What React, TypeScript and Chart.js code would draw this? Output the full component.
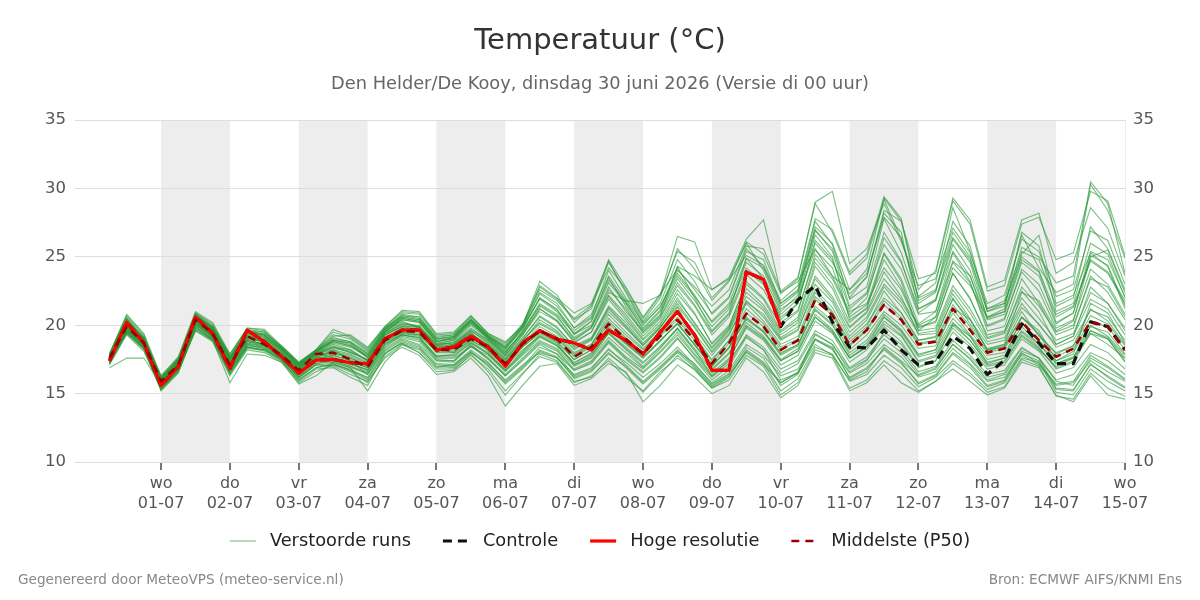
import { useEffect, useRef } from 'react';
import { Chart, registerables } from 'chart.js';

Chart.register(...registerables);

// Forecast time in hours relative to wo 01-07 00:00 (6-hourly steps)
const HOURS = [
  -18, -12, -6,
  0, 6, 12, 18, 24, 30, 36, 42, 48, 54, 60, 66, 72, 78, 84, 90, 96, 102, 108, 114,
  120, 126, 132, 138, 144, 150, 156, 162, 168, 174, 180, 186, 192, 198, 204, 210, 216,
  222, 228, 234, 240, 246, 252, 258, 264, 270, 276, 282, 288, 294, 300, 306, 312, 318,
  324, 330, 336,
];

const DAY_NAMES = ['wo', 'do', 'vr', 'za', 'zo', 'ma', 'di', 'wo', 'do', 'vr', 'za', 'zo', 'ma', 'di', 'wo'];
const DAY_DATES = ['01-07', '02-07', '03-07', '04-07', '05-07', '06-07', '07-07', '08-07', '09-07', '10-07', '11-07', '12-07', '13-07', '14-07', '15-07'];

// Shaded days (start hour of each grey band, one day wide)
const SHADED_DAY_STARTS = [0, 48, 96, 144, 192, 240, 288];

const Y_TICKS = [10, 15, 20, 25, 30, 35];

// Hoge resolutie (runs until 10-07 00:00)
const HIGH_RES = [
  17.4, 20.2, 18.7,
  15.6, 17.0, 20.6, 19.4, 16.85, 19.65, 18.8, 17.7, 16.5, 17.45, 17.5, 17.26,
  17.2, 19.0, 19.65, 19.65, 18.2, 18.4, 19.2, 18.4, 17.0, 18.7, 19.6, 19.0,
  18.7, 18.2, 19.65, 18.9, 17.9, 19.5, 21.0, 19.3, 16.7, 16.7, 23.9, 23.35,
  19.9,
];

// Controle
const CONTROL = [
  17.4, 20.2, 18.7,
  15.6, 17.0, 20.6, 19.4, 16.85, 19.65, 18.8, 17.7, 16.5, 17.45, 17.5, 17.26,
  17.2, 19.0, 19.65, 19.65, 18.2, 18.4, 19.2, 18.4, 17.0, 18.7, 19.6, 19.0,
  18.7, 18.2, 19.65, 18.9, 17.9, 19.5, 21.0, 19.3, 16.7, 16.7, 23.9, 23.35,
  19.9, 21.85, 22.9, 20.25, 18.4, 18.35, 19.65, 18.2, 17.1, 17.35, 19.2, 18.3,
  16.4, 17.45, 20.1, 18.7, 17.2, 17.2, 20.25, 19.9, 18.2,
];

// Middelste (P50)
const MEDIAN = [
  17.6, 19.9, 18.7,
  15.9, 17.1, 20.4, 19.4, 17.1, 19.2, 18.6, 17.8, 16.7, 17.9, 18.0, 17.5,
  16.95, 18.9, 19.6, 19.5, 18.2, 18.2, 19.0, 18.4, 17.2, 18.6, 19.6, 19.0,
  17.7, 18.4, 20.1, 19.0, 17.9, 19.2, 20.4, 18.9, 17.2, 18.7, 20.85, 19.9,
  18.2, 18.9, 21.85, 20.75, 18.55, 19.65, 21.5, 20.4, 18.6, 18.8, 21.2, 19.65,
  18.0, 18.3, 20.25, 18.9, 17.7, 18.3, 20.25, 19.9, 18.2,
];

// Verstoorde runs (perturbed ensemble members)
const RUN_01 = [17.5, 20.0, 18.9, 15.8, 17.0, 20.5, 19.5, 17.0, 19.2, 18.9, 17.8, 16.6, 17.6, 18.2, 17.5, 16.9, 19.1, 19.8, 19.7, 18.3, 18.0, 19.2, 18.6, 17.5, 18.9, 20.1, 19.4, 18.0, 18.6, 20.8, 19.5, 18.3, 19.6, 21.3, 19.2, 17.5, 18.9, 21.6, 20.3, 18.6, 19.2, 22.4, 21.0, 18.8, 19.9, 22.5, 20.9, 18.9, 19.1, 22.0, 20.1, 18.3, 18.6, 21.0, 19.2, 18.0, 18.5, 21.2, 20.3, 18.6];
const RUN_02 = [17.2, 19.4, 18.2, 15.3, 16.6, 19.7, 19.0, 16.4, 18.4, 18.1, 17.4, 16.0, 16.9, 17.1, 16.8, 16.1, 18.0, 18.7, 18.3, 17.1, 17.0, 18.0, 17.2, 16.0, 17.1, 18.0, 17.6, 16.4, 16.9, 18.2, 17.3, 16.2, 17.2, 18.4, 17.1, 15.8, 16.7, 18.6, 17.8, 16.3, 16.8, 19.0, 18.2, 16.5, 17.2, 18.6, 17.7, 16.2, 16.6, 18.3, 17.2, 15.9, 16.2, 17.8, 17.1, 15.6, 15.8, 17.4, 16.6, 15.9];
const RUN_03 = [17.8, 20.4, 19.1, 16.2, 17.5, 20.8, 19.8, 17.6, 19.6, 19.3, 18.3, 17.1, 18.1, 18.8, 18.5, 17.8, 19.6, 20.6, 20.4, 18.9, 19.0, 20.3, 19.1, 18.2, 19.8, 21.9, 21.0, 19.4, 20.3, 23.1, 21.6, 19.8, 21.1, 24.3, 22.0, 19.6, 20.9, 24.9, 23.4, 20.4, 21.6, 26.2, 24.8, 21.2, 22.3, 25.9, 24.1, 20.8, 21.0, 25.3, 23.2, 19.6, 19.9, 23.4, 21.6, 19.3, 19.8, 23.6, 22.4, 20.4];
const RUN_04 = [16.9, 17.6, 17.6, 15.6, 16.8, 19.6, 18.9, 15.8, 17.9, 17.8, 17.3, 15.7, 16.3, 17.3, 16.9, 15.2, 17.3, 18.6, 18.0, 16.6, 16.7, 17.9, 16.6, 14.9, 16.4, 17.9, 17.4, 15.9, 16.2, 17.6, 16.5, 15.1, 16.4, 17.8, 16.7, 15.4, 16.2, 18.1, 17.2, 15.2, 16.1, 18.4, 17.9, 15.9, 16.4, 17.8, 16.9, 15.5, 16.2, 17.4, 16.5, 15.3, 15.8, 17.6, 17.3, 15.1, 14.9, 16.8, 15.9, 15.2];
const RUN_05 = [17.7, 20.2, 18.5, 15.6, 17.3, 20.2, 19.1, 17.3, 18.8, 18.5, 17.7, 16.9, 18.0, 17.6, 17.2, 17.2, 19.3, 19.9, 19.9, 18.0, 18.6, 19.5, 18.1, 17.0, 18.2, 19.2, 18.6, 17.2, 18.0, 19.7, 18.6, 17.6, 18.8, 20.2, 18.5, 17.0, 18.4, 20.4, 19.5, 18.0, 18.6, 21.4, 20.3, 18.2, 19.3, 21.0, 20.0, 18.3, 18.5, 20.9, 19.3, 17.8, 18.0, 19.9, 18.6, 17.4, 18.1, 19.9, 19.5, 17.9];
const RUN_06 = [17.9, 20.7, 19.3, 16.1, 17.6, 20.9, 20.0, 17.8, 19.8, 19.6, 18.4, 17.2, 18.2, 19.5, 19.1, 18.2, 19.8, 20.9, 20.8, 19.2, 19.3, 20.6, 19.3, 18.6, 20.1, 22.6, 21.8, 20.4, 21.2, 24.6, 22.5, 20.3, 22.0, 25.6, 24.1, 21.8, 23.2, 26.1, 25.2, 22.3, 23.4, 28.9, 26.8, 23.7, 24.9, 29.2, 26.3, 22.1, 23.1, 28.6, 25.4, 21.2, 21.8, 26.6, 24.2, 22.4, 23.0, 30.3, 28.4, 24.9];
const RUN_07 = [17.4, 19.6, 18.4, 15.5, 16.9, 20.0, 19.2, 16.8, 18.6, 18.3, 17.5, 16.3, 17.3, 17.4, 17.0, 16.6, 18.5, 19.2, 18.9, 17.6, 17.6, 18.4, 17.8, 16.6, 17.8, 18.9, 18.3, 17.0, 17.6, 19.1, 18.0, 16.9, 18.1, 19.5, 17.9, 16.5, 17.6, 19.8, 18.9, 17.1, 17.8, 20.3, 19.4, 17.3, 18.2, 19.9, 18.8, 17.0, 17.4, 19.5, 18.4, 16.8, 17.1, 19.0, 18.1, 16.5, 16.9, 18.6, 18.0, 16.8];
const RUN_08 = [17.6, 19.8, 18.8, 15.9, 17.2, 20.6, 19.7, 17.4, 19.4, 19.1, 18.1, 16.8, 17.9, 18.5, 18.0, 17.5, 19.5, 20.3, 19.8, 18.5, 18.8, 19.8, 18.9, 17.9, 19.5, 21.4, 20.6, 19.1, 19.9, 22.4, 21.8, 21.6, 22.2, 26.5, 26.1, 22.6, 23.5, 26.3, 27.7, 22.4, 23.2, 25.6, 23.6, 21.0, 21.6, 24.2, 22.6, 19.8, 20.3, 23.8, 21.9, 19.3, 19.6, 22.5, 21.0, 18.6, 19.2, 22.8, 21.6, 19.6];
const RUN_09 = [17.3, 19.7, 18.6, 15.4, 16.7, 20.1, 19.1, 16.6, 18.5, 18.4, 17.6, 16.1, 17.1, 17.0, 16.4, 15.9, 17.6, 18.4, 17.8, 16.4, 16.6, 17.6, 16.3, 14.1, 15.6, 17.0, 17.2, 15.6, 16.1, 17.2, 16.6, 14.4, 15.6, 17.1, 16.2, 15.0, 15.6, 17.6, 16.6, 14.7, 15.6, 18.0, 17.6, 15.2, 15.8, 17.1, 15.8, 15.1, 15.9, 16.8, 15.9, 14.9, 15.4, 17.3, 16.9, 14.9, 14.4, 16.3, 14.9, 14.6];
const RUN_10 = [17.7, 20.1, 18.9, 16.0, 17.4, 20.7, 19.6, 17.5, 19.3, 19.0, 18.2, 17.0, 18.0, 18.6, 18.2, 17.4, 19.4, 20.1, 20.0, 18.6, 18.9, 20.0, 19.0, 17.8, 19.3, 21.0, 20.3, 18.8, 19.5, 22.1, 20.6, 19.0, 20.3, 22.6, 20.9, 18.6, 19.9, 23.2, 22.0, 20.0, 21.0, 25.2, 23.6, 22.6, 24.1, 29.3, 27.6, 23.4, 23.8, 29.1, 27.4, 22.5, 22.9, 27.4, 27.9, 24.8, 25.3, 29.8, 29.1, 25.1];
const RUN_11 = [17.6, 20.3, 18.6, 15.7, 17.1, 20.3, 19.3, 17.2, 19.1, 18.8, 17.9, 16.8, 17.8, 18.0, 17.7, 17.1, 19.0, 19.7, 19.6, 18.3, 18.4, 19.3, 18.5, 17.3, 18.7, 19.9, 19.2, 17.9, 18.6, 20.5, 19.3, 18.2, 19.5, 21.0, 19.4, 17.8, 19.3, 21.8, 20.6, 18.9, 19.6, 23.0, 21.7, 19.2, 20.4, 22.8, 21.4, 19.4, 19.6, 22.6, 20.9, 18.8, 19.1, 21.6, 20.0, 18.6, 19.2, 21.9, 21.2, 19.3];
const RUN_12 = [17.4, 19.5, 18.3, 15.2, 16.5, 19.8, 18.9, 16.9, 18.9, 18.6, 17.7, 16.5, 17.5, 17.8, 17.4, 16.4, 18.2, 19.0, 18.6, 17.4, 17.3, 18.5, 17.5, 16.3, 17.4, 18.6, 17.9, 16.7, 17.2, 18.7, 17.5, 16.5, 17.6, 19.0, 17.6, 16.2, 17.2, 19.3, 18.4, 16.8, 17.4, 19.6, 18.9, 16.9, 17.7, 19.3, 18.3, 16.6, 17.0, 18.9, 17.8, 16.4, 16.7, 18.4, 17.6, 16.0, 16.4, 18.0, 17.4, 16.4];
const RUN_13 = [17.8, 20.5, 19.0, 16.3, 17.6, 20.9, 20.1, 17.7, 19.5, 19.4, 18.5, 17.3, 18.2, 19.1, 18.8, 18.0, 19.7, 20.8, 20.6, 19.0, 19.2, 20.5, 19.2, 18.5, 20.0, 23.2, 22.2, 20.2, 21.4, 24.8, 22.8, 20.6, 22.3, 24.1, 22.6, 20.9, 22.1, 25.6, 24.3, 21.6, 22.6, 27.6, 25.9, 21.9, 22.8, 27.8, 25.3, 21.6, 22.4, 27.6, 25.8, 21.2, 21.6, 25.4, 24.8, 21.4, 22.0, 27.2, 25.6, 22.6];
const RUN_14 = [17.5, 19.9, 18.7, 15.9, 17.1, 20.4, 19.4, 17.1, 19.0, 18.6, 17.9, 16.7, 17.7, 17.9, 17.6, 17.0, 18.9, 19.5, 19.4, 18.2, 18.2, 19.0, 18.4, 17.2, 18.6, 19.6, 19.0, 17.7, 18.4, 20.1, 19.0, 17.9, 19.2, 20.4, 18.9, 17.2, 18.7, 20.9, 19.9, 18.2, 18.9, 21.9, 20.7, 18.5, 19.6, 21.5, 20.4, 18.6, 18.8, 21.2, 19.6, 18.0, 18.3, 20.2, 18.9, 17.7, 18.3, 20.3, 19.9, 18.2];
const RUN_15 = [17.3, 19.6, 18.5, 15.6, 16.9, 20.2, 19.3, 16.9, 18.7, 18.5, 17.8, 16.4, 17.4, 17.5, 17.1, 16.8, 18.7, 19.3, 19.1, 17.8, 17.8, 18.7, 17.9, 16.8, 18.1, 19.3, 18.7, 17.1, 17.7, 19.4, 18.2, 17.0, 18.3, 19.8, 18.2, 16.3, 17.4, 19.2, 18.2, 16.0, 16.5, 18.6, 17.8, 16.0, 16.6, 18.4, 17.4, 16.3, 16.8, 18.6, 17.6, 16.2, 16.5, 18.3, 17.6, 15.9, 15.6, 17.6, 16.9, 16.0];
const RUN_16 = [17.9, 20.6, 19.2, 16.1, 17.5, 20.8, 19.9, 17.9, 19.7, 19.5, 18.4, 17.2, 18.1, 19.2, 19.3, 18.4, 19.9, 21.1, 21.0, 19.4, 19.5, 20.7, 19.4, 18.8, 19.9, 22.9, 22.0, 20.9, 21.6, 24.7, 22.4, 20.1, 21.3, 23.8, 22.2, 20.2, 21.4, 24.2, 23.1, 20.8, 21.9, 26.6, 25.0, 20.4, 21.2, 25.2, 23.2, 19.6, 20.6, 24.6, 23.1, 19.9, 20.4, 24.1, 23.0, 20.1, 20.9, 25.1, 24.4, 21.4];
const RUN_17 = [17.6, 20.0, 18.7, 15.8, 17.2, 20.4, 19.4, 17.3, 19.1, 18.9, 18.0, 16.9, 17.9, 18.3, 18.1, 17.4, 19.2, 20.0, 19.8, 18.6, 18.7, 19.6, 18.8, 17.7, 19.1, 20.6, 19.8, 18.5, 19.1, 21.4, 20.2, 18.7, 20.0, 22.0, 20.1, 18.4, 19.8, 22.7, 21.5, 19.5, 20.4, 24.3, 22.7, 19.9, 21.0, 23.9, 22.1, 19.3, 19.4, 22.3, 20.5, 18.2, 18.4, 20.6, 19.4, 17.2, 17.6, 19.4, 18.6, 17.6];
const RUN_18 = [17.1, 19.3, 18.1, 15.4, 16.6, 19.6, 18.8, 16.3, 18.2, 18.0, 17.3, 15.8, 16.6, 17.1, 16.6, 15.8, 17.7, 18.6, 18.2, 16.9, 17.1, 18.1, 17.0, 15.8, 16.9, 18.2, 17.7, 16.1, 16.6, 17.9, 17.0, 15.8, 16.9, 18.1, 17.2, 15.7, 16.5, 18.4, 17.6, 15.6, 16.4, 18.9, 18.3, 16.2, 16.9, 18.2, 17.2, 15.8, 16.4, 18.0, 17.1, 15.6, 16.0, 18.1, 17.6, 15.4, 15.3, 17.1, 16.3, 15.5];
const RUN_19 = [17.7, 20.2, 19.0, 16.0, 17.3, 20.6, 19.7, 17.6, 19.5, 19.2, 18.3, 17.1, 18.1, 18.9, 18.6, 17.6, 19.6, 20.5, 20.3, 18.8, 19.1, 20.2, 19.0, 18.0, 19.6, 21.6, 20.8, 19.4, 20.0, 22.8, 21.0, 19.6, 20.8, 23.4, 21.8, 19.9, 21.2, 24.6, 23.6, 21.0, 22.2, 26.9, 25.6, 22.0, 23.6, 28.4, 27.6, 22.6, 24.0, 29.3, 27.7, 22.8, 23.3, 27.7, 28.2, 23.8, 24.6, 28.6, 27.1, 23.6];
const RUN_20 = [17.5, 19.8, 18.6, 15.7, 17.0, 20.3, 19.3, 17.0, 18.9, 18.6, 17.8, 16.5, 17.6, 17.7, 17.3, 16.9, 18.8, 19.4, 19.3, 18.0, 18.0, 18.9, 18.2, 17.1, 18.4, 19.5, 18.8, 17.5, 18.2, 19.9, 18.7, 17.6, 18.9, 20.1, 18.6, 17.0, 18.3, 20.6, 19.5, 17.8, 18.5, 21.2, 20.1, 17.8, 18.7, 20.6, 19.5, 17.7, 18.0, 20.2, 18.9, 17.3, 17.6, 19.5, 18.4, 16.8, 17.3, 19.4, 19.0, 17.3];
const RUN_21 = [17.8, 20.3, 19.1, 16.2, 17.4, 20.7, 19.8, 17.7, 19.6, 19.5, 18.4, 17.2, 18.2, 19.3, 19.0, 18.1, 19.8, 20.7, 20.6, 19.1, 19.3, 20.4, 19.3, 18.4, 19.9, 22.3, 21.4, 19.8, 20.8, 23.6, 21.8, 20.0, 21.4, 24.0, 22.8, 21.4, 22.6, 25.8, 25.6, 22.5, 23.5, 29.0, 29.8, 24.5, 25.6, 28.9, 26.1, 22.9, 23.4, 27.1, 25.3, 21.6, 22.2, 26.3, 25.4, 22.1, 22.6, 26.9, 26.2, 23.0];
const RUN_22 = [17.6, 20.1, 18.8, 15.8, 17.0, 20.5, 19.5, 17.2, 19.2, 18.8, 17.9, 16.7, 17.8, 18.1, 17.8, 17.2, 19.1, 19.8, 19.6, 18.4, 18.5, 19.4, 18.6, 17.5, 18.9, 20.2, 19.5, 18.2, 18.9, 21.0, 19.8, 18.5, 19.8, 21.6, 19.9, 18.1, 19.6, 22.1, 21.1, 19.1, 19.9, 23.4, 21.9, 19.5, 20.6, 23.0, 21.7, 19.6, 19.8, 22.9, 21.2, 19.0, 19.4, 22.0, 20.5, 18.9, 19.4, 22.4, 21.6, 19.8];
const RUN_23 = [17.2, 19.4, 18.3, 15.3, 16.7, 19.9, 19.0, 16.5, 18.3, 18.2, 17.5, 15.9, 16.8, 16.9, 16.2, 15.6, 17.9, 18.7, 18.0, 16.8, 16.8, 17.8, 16.8, 15.2, 16.5, 17.7, 17.3, 15.8, 16.3, 17.4, 16.2, 15.2, 16.6, 17.6, 16.8, 15.4, 16.0, 17.8, 17.0, 14.9, 15.8, 18.2, 17.8, 15.4, 16.0, 17.4, 16.5, 15.2, 15.9, 17.2, 16.3, 15.1, 15.5, 17.5, 17.0, 14.8, 14.6, 16.5, 15.4, 14.8];
const RUN_24 = [17.7, 20.0, 18.9, 16.0, 17.3, 20.5, 19.6, 17.5, 19.4, 19.1, 18.2, 17.0, 18.0, 18.7, 18.4, 17.7, 19.5, 20.4, 20.2, 18.7, 18.9, 20.1, 19.1, 18.1, 19.4, 21.2, 20.4, 18.9, 19.8, 22.2, 20.8, 19.2, 20.5, 22.9, 21.4, 19.3, 20.6, 23.7, 22.6, 20.2, 21.1, 24.9, 23.4, 20.8, 22.0, 26.4, 24.6, 21.2, 21.9, 25.9, 24.0, 20.6, 21.0, 25.2, 26.6, 21.6, 22.2, 25.3, 24.3, 21.2];
const RUN_25 = [17.4, 19.8, 18.5, 15.5, 16.8, 20.1, 19.2, 16.7, 18.6, 18.5, 17.6, 16.2, 17.2, 17.3, 16.9, 16.5, 18.4, 19.3, 19.1, 17.5, 17.4, 18.6, 17.6, 16.4, 17.6, 18.8, 18.2, 16.8, 17.4, 18.9, 17.7, 16.8, 18.0, 19.3, 17.8, 16.3, 17.5, 19.9, 19.0, 17.4, 18.1, 20.6, 19.6, 17.6, 18.4, 20.1, 19.2, 17.3, 17.7, 19.8, 18.6, 17.0, 17.3, 19.2, 18.2, 17.0, 17.6, 20.0, 19.2, 17.8];
const RUN_26 = [17.9, 20.8, 19.4, 16.3, 17.7, 21.0, 20.2, 17.9, 19.8, 19.7, 18.5, 17.3, 18.2, 19.7, 19.2, 18.3, 19.9, 21.0, 20.9, 19.3, 19.4, 20.7, 19.4, 18.7, 20.0, 22.8, 21.9, 20.5, 21.5, 24.2, 22.7, 20.5, 22.2, 25.4, 24.6, 22.0, 23.3, 25.1, 24.4, 21.8, 22.9, 27.8, 27.0, 23.9, 25.2, 29.4, 27.8, 21.8, 22.5, 26.4, 24.8, 21.0, 21.4, 25.7, 25.0, 23.1, 23.6, 30.5, 28.9, 23.8];
const RUN_27 = [17.6, 19.9, 18.8, 15.8, 17.2, 20.4, 19.5, 17.1, 19.0, 18.8, 18.0, 16.8, 17.9, 18.2, 17.9, 17.3, 19.3, 19.9, 19.7, 18.4, 18.6, 19.4, 18.5, 17.4, 18.8, 20.4, 19.6, 18.3, 19.0, 21.3, 20.0, 18.6, 19.9, 21.4, 19.8, 18.0, 19.4, 21.7, 20.8, 19.0, 19.7, 22.6, 21.3, 19.0, 20.1, 22.0, 20.9, 18.9, 19.2, 21.9, 20.4, 18.6, 18.9, 21.3, 20.1, 18.4, 18.9, 21.1, 20.6, 18.9];
const RUN_28 = [17.3, 19.5, 18.4, 15.4, 16.8, 19.9, 19.0, 16.6, 18.4, 18.2, 17.5, 16.2, 17.1, 17.2, 16.7, 16.2, 18.1, 18.9, 18.5, 17.2, 17.1, 18.2, 17.3, 15.9, 17.0, 18.4, 17.9, 16.3, 16.8, 18.3, 17.1, 15.9, 17.0, 18.2, 17.0, 15.6, 16.4, 18.0, 17.1, 15.8, 16.5, 19.3, 18.6, 16.6, 17.4, 19.5, 18.6, 16.9, 17.4, 20.1, 19.2, 17.2, 17.6, 20.6, 19.6, 17.4, 17.9, 21.6, 20.9, 18.7];
const RUN_29 = [17.8, 20.4, 19.0, 16.1, 17.5, 20.7, 19.8, 17.6, 19.5, 19.3, 18.3, 17.1, 18.1, 18.9, 18.7, 17.7, 19.5, 20.5, 20.3, 18.8, 19.1, 20.4, 19.1, 18.3, 19.7, 22.0, 21.2, 19.3, 20.3, 23.5, 21.4, 19.5, 20.7, 24.3, 23.6, 22.6, 23.4, 26.0, 24.0, 21.2, 22.0, 25.5, 24.2, 20.6, 21.5, 25.3, 23.4, 20.1, 21.0, 24.7, 23.6, 20.4, 20.8, 24.6, 23.6, 20.6, 21.3, 24.7, 23.8, 21.6];
const RUN_30 = [17.5, 19.7, 18.6, 15.6, 17.0, 20.2, 19.2, 16.9, 18.8, 18.6, 17.7, 16.4, 17.5, 17.6, 17.2, 16.7, 18.6, 19.4, 19.2, 17.7, 17.9, 18.8, 18.0, 16.7, 18.0, 19.2, 18.5, 17.1, 17.8, 19.5, 18.4, 17.3, 18.5, 19.8, 18.3, 16.8, 18.0, 20.2, 19.2, 17.5, 18.3, 20.8, 19.7, 17.6, 18.5, 20.6, 19.6, 17.8, 18.2, 21.3, 20.4, 18.2, 18.6, 22.4, 21.8, 19.6, 20.3, 25.0, 25.5, 22.4];
const RUN_31 = [17.7, 20.1, 18.8, 15.9, 17.3, 20.6, 19.6, 17.4, 19.3, 18.9, 18.0, 16.9, 18.0, 18.4, 18.0, 17.5, 19.4, 20.2, 19.9, 18.6, 18.7, 19.7, 18.9, 17.8, 19.3, 21.2, 20.3, 18.7, 19.5, 21.9, 20.4, 18.9, 20.1, 22.3, 20.8, 18.7, 20.0, 23.0, 21.9, 19.6, 20.6, 24.6, 23.0, 20.2, 21.3, 24.8, 22.8, 19.9, 20.2, 23.8, 22.0, 19.1, 19.5, 22.8, 21.4, 19.5, 20.0, 23.4, 22.8, 20.6];
const RUN_32 = [17.4, 19.7, 18.5, 15.5, 16.9, 20.1, 19.2, 16.8, 18.7, 18.4, 17.6, 16.4, 17.4, 17.6, 17.3, 16.7, 18.6, 19.3, 19.0, 17.7, 17.7, 18.7, 17.9, 16.7, 17.9, 19.1, 18.5, 17.3, 17.9, 19.4, 18.3, 17.2, 18.4, 19.7, 18.1, 16.7, 17.9, 20.0, 19.1, 17.4, 18.1, 20.6, 19.5, 17.6, 18.4, 20.3, 19.3, 17.4, 17.8, 20.0, 18.9, 17.1, 17.4, 19.3, 18.3, 16.9, 17.4, 19.6, 19.0, 17.4];
const RUN_33 = [17.8, 20.5, 19.0, 16.1, 17.4, 20.8, 19.9, 17.6, 19.5, 19.3, 18.3, 17.1, 18.1, 18.9, 18.7, 17.9, 19.7, 20.6, 20.4, 19.0, 19.1, 20.3, 19.2, 18.3, 19.8, 22.0, 21.1, 19.6, 20.5, 23.3, 21.7, 19.7, 21.0, 23.6, 22.1, 20.3, 21.6, 24.9, 24.2, 21.4, 22.4, 27.2, 26.0, 22.6, 23.8, 27.9, 26.4, 22.0, 22.6, 26.8, 25.0, 21.0, 21.6, 25.0, 24.0, 20.8, 21.4, 24.8, 23.9, 21.8];
const RUN_34 = [17.5, 20.0, 18.8, 15.8, 17.1, 20.4, 19.4, 17.1, 19.1, 18.7, 17.9, 16.7, 17.7, 18.0, 17.6, 17.0, 18.9, 19.6, 19.5, 18.2, 18.3, 19.1, 18.4, 17.3, 18.6, 19.7, 19.1, 17.8, 18.5, 20.3, 19.1, 18.0, 19.3, 20.6, 19.1, 17.4, 18.9, 21.2, 20.1, 18.4, 19.0, 22.1, 20.9, 18.6, 19.7, 21.8, 20.6, 18.7, 18.9, 21.5, 19.9, 18.1, 18.5, 20.6, 19.3, 17.9, 18.5, 20.7, 20.1, 18.5];
const RUN_35 = [17.2, 19.5, 18.3, 15.3, 16.6, 19.8, 18.9, 16.5, 18.4, 18.2, 17.4, 16.0, 16.9, 17.2, 16.7, 16.0, 17.9, 18.8, 18.4, 17.0, 16.9, 18.0, 17.1, 15.7, 16.8, 18.1, 17.6, 16.2, 16.7, 18.0, 16.9, 15.7, 16.8, 18.0, 16.9, 15.5, 16.3, 18.2, 17.3, 15.8, 16.6, 19.0, 18.4, 16.1, 16.8, 18.3, 17.3, 15.7, 16.3, 17.9, 16.9, 15.5, 15.9, 17.9, 17.4, 15.3, 15.2, 17.2, 16.2, 15.4];
const RUN_36 = [17.6, 20.2, 18.9, 15.9, 17.2, 20.5, 19.6, 17.3, 19.2, 19.0, 18.1, 16.9, 17.9, 18.4, 18.2, 17.4, 19.3, 20.1, 19.9, 18.5, 18.6, 19.6, 18.7, 17.6, 19.0, 20.7, 19.9, 18.4, 19.0, 21.2, 19.9, 18.5, 19.8, 21.8, 20.2, 18.3, 19.7, 22.4, 21.3, 19.3, 20.2, 23.6, 22.1, 19.8, 20.9, 23.4, 21.9, 20.0, 20.6, 24.2, 22.9, 20.6, 21.2, 26.8, 25.8, 21.0, 21.6, 26.0, 25.2, 22.0];
const RUN_37 = [17.3, 19.6, 18.4, 15.5, 16.8, 20.0, 19.1, 16.7, 18.5, 18.3, 17.6, 16.2, 17.2, 17.4, 17.0, 16.4, 18.3, 19.1, 18.8, 17.4, 17.4, 18.5, 17.6, 16.3, 17.5, 18.7, 18.1, 16.7, 17.3, 18.8, 17.6, 16.6, 17.7, 19.1, 17.5, 16.0, 17.0, 19.1, 18.2, 16.5, 17.2, 19.4, 18.6, 16.8, 17.5, 19.0, 18.0, 16.4, 16.9, 18.6, 17.5, 16.0, 16.4, 18.0, 17.2, 15.7, 15.9, 17.8, 17.0, 16.1];
const RUN_38 = [17.7, 20.3, 19.0, 16.0, 17.5, 20.7, 19.8, 17.5, 19.4, 19.2, 18.2, 17.0, 18.0, 18.8, 18.5, 17.7, 19.5, 20.4, 20.2, 18.8, 19.0, 20.2, 19.1, 18.0, 19.5, 21.5, 20.7, 19.0, 19.8, 22.6, 21.2, 19.4, 20.6, 23.1, 21.5, 19.5, 20.8, 24.0, 23.0, 20.6, 21.6, 26.0, 24.6, 22.3, 23.5, 28.2, 26.8, 21.2, 21.8, 25.4, 23.6, 20.0, 20.5, 23.9, 22.5, 19.8, 20.4, 24.1, 23.0, 20.8];
const RUN_39 = [17.5, 19.9, 18.6, 15.7, 17.0, 20.3, 19.3, 17.0, 18.9, 18.6, 17.8, 16.6, 17.6, 17.8, 17.4, 16.9, 18.8, 19.5, 19.3, 18.1, 18.1, 18.9, 18.2, 17.0, 18.4, 19.4, 18.8, 17.5, 18.2, 19.8, 18.7, 17.7, 18.9, 20.1, 18.6, 17.0, 18.4, 20.5, 19.6, 17.9, 18.6, 21.1, 20.0, 18.0, 18.9, 20.8, 19.7, 17.9, 18.2, 20.5, 19.2, 17.5, 17.8, 19.6, 18.6, 17.2, 17.7, 19.6, 19.1, 17.6];
const RUN_40 = [17.8, 20.4, 19.1, 16.1, 17.4, 20.6, 19.7, 17.6, 19.6, 19.3, 18.3, 17.1, 18.1, 19.0, 18.8, 17.9, 19.7, 20.7, 20.5, 19.0, 19.2, 20.4, 19.2, 18.4, 19.9, 22.4, 21.6, 19.8, 20.6, 24.0, 22.0, 20.2, 21.6, 24.8, 23.2, 20.8, 22.0, 25.4, 24.8, 21.6, 22.5, 27.0, 25.4, 21.4, 22.4, 26.8, 24.7, 20.9, 21.8, 26.3, 24.6, 20.5, 21.0, 24.8, 23.9, 20.2, 20.9, 25.4, 24.8, 22.1];

const RUNS = [
  RUN_01, RUN_02, RUN_03, RUN_04, RUN_05, RUN_06, RUN_07, RUN_08, RUN_09, RUN_10,
  RUN_11, RUN_12, RUN_13, RUN_14, RUN_15, RUN_16, RUN_17, RUN_18, RUN_19, RUN_20,
  RUN_21, RUN_22, RUN_23, RUN_24, RUN_25, RUN_26, RUN_27, RUN_28, RUN_29, RUN_30,
  RUN_31, RUN_32, RUN_33, RUN_34, RUN_35, RUN_36, RUN_37, RUN_38, RUN_39, RUN_40,
];

const TITLE = 'Temperatuur (°C)';
const SUBTITLE = 'Den Helder/De Kooy, dinsdag 30 juni 2026 (Versie di 00 uur)';
const FOOTER_LEFT = 'Gegenereerd door MeteoVPS (meteo-service.nl)';
const FOOTER_RIGHT = 'Bron: ECMWF AIFS/KNMI Ens';

const FONT = "'DejaVu Sans', 'Noto Sans', sans-serif";

const STYLE_RUNS = { label: 'Verstoorde runs', color: 'rgba(40, 152, 55, 0.62)', width: 1.1, dash: [] as number[] };
const STYLE_CONTROL = { label: 'Controle', color: '#111111', width: 3.2, dash: [9, 6] };
const STYLE_HIGH = { label: 'Hoge resolutie', color: '#ff0000', width: 3.2, dash: [] as number[] };
const STYLE_MEDIAN = { label: 'Middelste (P50)', color: '#9b0000', width: 2.6, dash: [8, 6] };
const LEGEND = [STYLE_RUNS, STYLE_CONTROL, STYLE_HIGH, STYLE_MEDIAN];

const toPoints = (values: number[]) => values.map((y, i) => ({ x: HOURS[i], y }));

// Alternating grey day bands behind the grid
const dayBands = {
  id: 'dayBands',
  beforeDraw(chart: any) {
    const { ctx, chartArea, scales } = chart;
    const x = scales.x;
    ctx.save();
    ctx.fillStyle = '#ededed';
    SHADED_DAY_STARTS.forEach((h) => {
      const x0 = x.getPixelForValue(h);
      const x1 = x.getPixelForValue(h + 24);
      ctx.fillRect(x0, chartArea.top, x1 - x0, chartArea.bottom - chartArea.top);
    });
    ctx.restore();
  },
};

// Legend row and the footer credits
const legendFooter = {
  id: 'legendFooter',
  afterDraw(chart: any) {
    const ctx = chart.ctx;
    ctx.save();
    ctx.font = `17.8px ${FONT}`;
    const lineLen = 26;
    const gap = 14;
    const spacing = 32;
    const widths = LEGEND.map((it) => ctx.measureText(it.label).width);
    const total = widths.reduce((a, w) => a + lineLen + gap + w, 0) + spacing * (LEGEND.length - 1);
    let x = chart.width / 2 - total / 2;
    const y = 541;
    LEGEND.forEach((it, i) => {
      ctx.beginPath();
      ctx.setLineDash(it.dash);
      ctx.lineWidth = it.width;
      ctx.strokeStyle = it.color;
      ctx.moveTo(x, y);
      ctx.lineTo(x + lineLen, y);
      ctx.stroke();
      ctx.setLineDash([]);
      ctx.fillStyle = '#222222';
      ctx.textAlign = 'left';
      ctx.textBaseline = 'middle';
      ctx.fillText(it.label, x + lineLen + gap, y);
      x += lineLen + gap + widths[i] + spacing;
    });
    ctx.font = `13.6px ${FONT}`;
    ctx.fillStyle = '#888888';
    ctx.textBaseline = 'middle';
    ctx.textAlign = 'left';
    ctx.fillText(FOOTER_LEFT, 18, 580);
    ctx.textAlign = 'right';
    ctx.fillText(FOOTER_RIGHT, 1182, 580);
    ctx.restore();
  },
};

export default function App() {
  const canvasRef = useRef<HTMLCanvasElement | null>(null);

  useEffect(() => {
    const canvas = canvasRef.current;
    if (!canvas) return;
    Chart.defaults.font.family = FONT;

    const runSets = RUNS.map((run, i) => ({
      label: i === 0 ? STYLE_RUNS.label : `${STYLE_RUNS.label} ${i + 1}`,
      data: toPoints(run),
      borderColor: STYLE_RUNS.color,
      borderWidth: STYLE_RUNS.width,
      pointRadius: 0,
      tension: 0,
      order: 4,
    }));

    const chart = new Chart(canvas, {
      type: 'line',
      data: {
        datasets: [
          ...runSets,
          {
            label: STYLE_CONTROL.label,
            data: toPoints(CONTROL),
            borderColor: STYLE_CONTROL.color,
            borderWidth: STYLE_CONTROL.width,
            borderDash: STYLE_CONTROL.dash,
            borderJoinStyle: 'round',
            pointRadius: 0,
            order: 3,
          },
          {
            label: STYLE_HIGH.label,
            data: toPoints(HIGH_RES),
            borderColor: STYLE_HIGH.color,
            borderWidth: STYLE_HIGH.width,
            borderJoinStyle: 'round',
            pointRadius: 0,
            order: 2,
          },
          {
            label: STYLE_MEDIAN.label,
            data: toPoints(MEDIAN),
            borderColor: STYLE_MEDIAN.color,
            borderWidth: STYLE_MEDIAN.width,
            borderDash: STYLE_MEDIAN.dash,
            borderJoinStyle: 'round',
            pointRadius: 0,
            order: 1,
          },
        ] as any,
      },
      options: {
        responsive: false,
        animation: false,
        events: [],
        layout: { padding: { left: 0, right: 0, top: 0, bottom: 88 } },
        plugins: {
          legend: { display: false },
          tooltip: { enabled: false },
          title: {
            display: true,
            text: TITLE,
            color: '#333333',
            font: { size: 29, weight: 'normal' },
            padding: { top: 24, bottom: 7 },
          },
          subtitle: {
            display: true,
            text: SUBTITLE,
            color: '#666666',
            font: { size: 17.8 },
            padding: { top: 8, bottom: 25 },
          },
        },
        scales: {
          x: {
            type: 'linear',
            min: -30,
            max: 336,
            afterBuildTicks: (scale: any) => {
              scale.ticks = DAY_DATES.map((_, i) => ({ value: i * 24 }));
            },
            afterFit: (scale: any) => {
              scale.height = 50;
            },
            ticks: {
              autoSkip: false,
              maxRotation: 0,
              padding: 3,
              color: '#555555',
              font: { size: 16, lineHeight: 1.3 },
              callback: (value: any) => {
                const i = Math.round(Number(value) / 24);
                return [DAY_NAMES[i], DAY_DATES[i]];
              },
            },
            grid: {
              display: true,
              drawOnChartArea: false,
              drawTicks: true,
              tickLength: 8,
              color: '#777777',
              lineWidth: 2,
            },
            border: { display: false },
          },
          y: {
            type: 'linear',
            position: 'left',
            min: 10,
            max: 35,
            afterBuildTicks: (scale: any) => {
              scale.ticks = Y_TICKS.map((v) => ({ value: v }));
            },
            afterFit: (scale: any) => {
              scale.width = 75;
            },
            ticks: { padding: 9, color: '#555555', font: { size: 16.5 } },
            grid: { color: '#dddddd', lineWidth: 1, drawTicks: false },
            border: { display: false },
          },
          y2: {
            type: 'linear',
            position: 'right',
            min: 10,
            max: 35,
            afterBuildTicks: (scale: any) => {
              scale.ticks = Y_TICKS.map((v) => ({ value: v }));
            },
            afterFit: (scale: any) => {
              scale.width = 75;
            },
            ticks: { padding: 8, color: '#555555', font: { size: 16.5 } },
            grid: { display: false, drawTicks: false },
            border: { display: true, color: '#eeeeee' },
          },
        },
      } as any,
      plugins: [dayBands, legendFooter],
    });

    return () => chart.destroy();
  }, []);

  return (
    <div style={{ position: 'fixed', left: 0, top: 0, width: 1200, height: 600, background: '#ffffff' }}>
      <canvas ref={canvasRef} width={1200} height={600} />
    </div>
  );
}
